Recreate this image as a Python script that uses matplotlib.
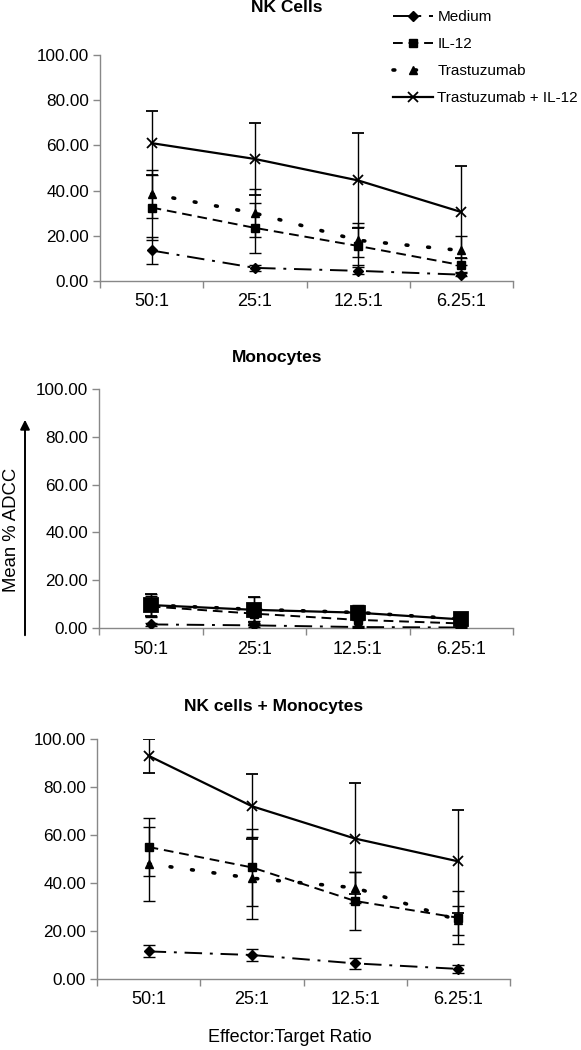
import matplotlib
matplotlib.use("Agg")
import matplotlib.pyplot as plt

plt.rcParams['font.family'] = ['Liberation Sans', 'DejaVu Sans']

categories = ["50:1", "25:1", "12.5:1", "6.25:1"]
series_names = ["Medium", "IL-12", "Trastuzumab", "Trastuzumab + IL-12"]
panel_titles = ["NK Cells", "Monocytes", "NK cells + Monocytes"]

# NK cells
nk_medium = [13.5, 5.8, 4.5, 2.8]
nk_medium_err = [5.8, 1.5, 1.5, 0.6]
nk_il12 = [32.5, 23.5, 15.5, 7.0]
nk_il12_err = [14.5, 11.0, 8.5, 3.0]
nk_trast = [38.5, 30.0, 18.0, 13.5]
nk_trast_err = [10.5, 10.5, 7.5, 6.5]
nk_combo = [61.0, 54.0, 44.5, 30.5]
nk_combo_err = [14.0, 16.0, 21.0, 20.5]

# Monocytes
mo_medium = [1.5, 1.1, 0.4, 0.2]
mo_medium_err = [0.5, 0.5, 0.3, 0.2]
mo_il12 = [9.0, 6.0, 3.4, 1.9]
mo_il12_err = [4.5, 4.0, 3.0, 1.0]
mo_trast = [9.6, 7.8, 6.5, 3.8]
mo_trast_err = [4.6, 5.0, 3.0, 1.5]
mo_combo = [9.6, 7.6, 6.4, 3.6]
mo_combo_err = [4.7, 5.2, 2.5, 1.2]

# NK cells + Monocytes
nm_medium = [11.5, 10.0, 6.5, 4.2]
nm_medium_err = [2.5, 2.5, 2.3, 1.5]
nm_il12 = [55.0, 46.5, 32.5, 25.5]
nm_il12_err = [12.0, 16.0, 12.0, 11.0]
nm_trast = [48.0, 42.0, 38.0, 24.5]
nm_trast_err = [15.5, 17.0, 6.5, 6.0]
nm_combo = [93.0, 72.0, 58.5, 49.0]
nm_combo_err = [7.0, 13.5, 23.0, 21.5]

panels = [
    [(nk_medium, nk_medium_err), (nk_il12, nk_il12_err), (nk_trast, nk_trast_err), (nk_combo, nk_combo_err)],
    [(mo_medium, mo_medium_err), (mo_il12, mo_il12_err), (mo_trast, mo_trast_err), (mo_combo, mo_combo_err)],
    [(nm_medium, nm_medium_err), (nm_il12, nm_il12_err), (nm_trast, nm_trast_err), (nm_combo, nm_combo_err)],
]

W, H = 581, 1050
fig = plt.figure(figsize=(W / 100, H / 100), dpi=100)

# axes rectangles in pixel coords: left, right, y0(px), y100(px)
rects = [(100, 513, 281, 55), (99, 513, 628, 389), (97, 510, 979, 739)]
title_pos = [(287, 8), (277, 357), (274, 707)]

styles = [
    dict(ls=(0, (9, 4, 1.5, 4)), marker='D', ms=5, lw=1.4),
    dict(ls=(0, (5, 3)), marker='s', ms=5.5, lw=1.4),
    dict(ls=(0, (0.5, 5.5)), marker='^', ms=6, lw=2.6, dash_capstyle='round'),
    dict(ls='-', marker='x', ms=7, lw=1.6, mew=1.3),
]

x = list(range(len(categories)))
handles = []
for pi, (rect, data) in enumerate(zip(rects, panels)):
    l, r, y0, y100 = rect
    ax = fig.add_axes([l / W, 1 - y0 / H, (r - l) / W, (y0 - y100) / H])
    for si, (vals, errs) in enumerate(data):
        st = dict(styles[si])
        if pi == 1 and si == 3:
            st['marker'] = 's'
            st['ms'] = 10
        ax.errorbar(x, vals, yerr=errs, color='black', ecolor='black',
                    elinewidth=1.0, capsize=4, capthick=1.0, zorder=3 + si, **st)
    ax.set_xlim(-0.5, 3.5)
    ax.set_ylim(0, 100)
    ax.set_yticks([0, 20, 40, 60, 80, 100])
    ax.set_yticklabels(["%.2f" % v for v in [0, 20, 40, 60, 80, 100]])
    ax.set_xticks(x)
    ax.set_xticklabels(categories)
    ax.set_xticks([-0.5, 0.5, 1.5, 2.5, 3.5], minor=True)
    ax.tick_params(axis='x', which='major', length=0, labelsize=13, pad=9)
    ax.tick_params(axis='x', which='minor', length=5, color='#888888', width=1)
    ax.tick_params(axis='y', length=5, color='#888888', width=1, labelsize=12.3, pad=3)
    for s in ['top', 'right']:
        ax.spines[s].set_visible(False)
    for s in ['left', 'bottom']:
        ax.spines[s].set_color('#888888')
        ax.spines[s].set_linewidth(1)
    ax.patch.set_alpha(0)
    tx, ty = title_pos[pi]
    fig.text(tx / W, 1 - ty / H, panel_titles[pi], ha='center', va='center',
             fontsize=12.5, fontweight='bold')

for si in range(4):
    st = styles[si]
    h, = plt.plot([], [], color='black', **st)
    handles.append(h)
fig.legend(handles, series_names, loc='upper left', bbox_to_anchor=(393 / W, 1 - 10 / H),
           frameon=False, fontsize=11, handlelength=2.6, labelspacing=0.85,
           handletextpad=0.3, borderaxespad=0, borderpad=0)

fig.text(12 / W, 1 - 530 / H, "Mean % ADCC", rotation=90, ha='center', va='center', fontsize=13.3)
fig.patches.append(matplotlib.patches.FancyArrowPatch(
    (25 / W, 1 - 638 / H), (25 / W, 1 - 417 / H), transform=fig.transFigure,
    arrowstyle='-|>', mutation_scale=14, color='black', lw=1.4))
fig.text(290 / W, 1 - 1038 / H, "Effector:Target Ratio", ha='center', va='center', fontsize=13)

fig.savefig("out.png", dpi=100)
